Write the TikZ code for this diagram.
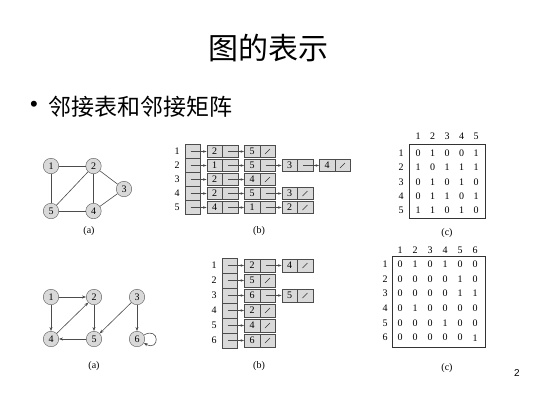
\documentclass[tikz,border=0pt]{standalone}
\usepackage{fontspec}
\setmainfont{Liberation Serif}
\newfontfamily\cjk{Noto Sans CJK SC}
\newfontfamily\arialfont{Liberation Sans}
\usetikzlibrary{arrows.meta}
\begin{document}
\begin{tikzpicture}[x=1pt,y=-1pt,
  vtx/.style={circle,draw=black!65,fill=black!15,minimum size=15.5pt,inner sep=0pt,font=\fontsize{10}{11}\selectfont},
  edge/.style={draw=black!70,line width=0.6pt},
  arr/.style={edge,-{Stealth[length=4pt,width=3pt]}},
  lbl/.style={font=\fontsize{10}{11}\selectfont,inner sep=0pt},
  headcell/.style={draw=black!70,fill=black!15,minimum width=15.5pt,inner sep=0pt},
  cell/.style={draw=black!70,fill=black!15,minimum width=15.5pt,inner sep=0pt,font=\fontsize{10}{11}\selectfont},
  ptr/.style={draw=black!70,line width=0.5pt,-{Stealth[length=3.5pt,width=2.5pt]}},
  digit/.style={font=\fontsize{10}{11}\selectfont,inner sep=0pt},
  nilmark/.style={black!80,line width=0.5pt}
]
\useasboundingbox[fill=white] (0,0) rectangle (533,400);

% title and bullet
\node[font=\cjk\fontsize{30}{32}\selectfont] (title) at (268,48) {图的表示};
\node[font=\arialfont\fontsize{22}{24}\selectfont] (bul) at (34,106) {•};
\node[anchor=west,font=\cjk\fontsize{23}{25}\selectfont,inner sep=0pt] (sub) at (48,107) {邻接表和邻接矩阵};
\node[font=\arialfont\fontsize{10}{12}\selectfont] (pg) at (517,373) {2};

% ---------- top graph (a) ----------
\node[vtx] (a1) at (51,166) {1};
\node[vtx] (a2) at (93.5,166) {2};
\node[vtx] (a3) at (124,189) {3};
\node[vtx] (a5) at (51,211) {5};
\node[vtx] (a4) at (93.5,211) {4};
\draw[edge] (a1) -- (a2);
\draw[edge] (a1) -- (a5);
\draw[edge] (a2) -- (a5);
\draw[edge] (a2) -- (a4);
\draw[edge] (a2) -- (a3);
\draw[edge] (a3) -- (a4);
\draw[edge] (a5) -- (a4);
\node[lbl] (capa1) at (89,231) {(a)};

% ---------- bottom graph (a) ----------
\node[vtx] (b1) at (51,297) {1};
\node[vtx] (b2) at (94,297) {2};
\node[vtx] (b3) at (137,297) {3};
\node[vtx] (b4) at (51,339) {4};
\node[vtx] (b5) at (94,339) {5};
\node[vtx] (b6) at (137,339) {6};
\draw[arr] (b1) -- (b2);
\draw[arr] (b1) -- (b4);
\draw[arr] (b2) -- (b5);
\draw[arr] (b4) -- (b2);
\draw[arr] (b3) -- (b5);
\draw[arr] (b3) -- (b6);
\draw[arr] (b5) -- (b4);
\draw[arr] (b6) to[out=30,in=-30,looseness=6] (b6);
\node[lbl] (capa2) at (94,366) {(a)};

% ---------- top adjacency list (b) ----------
\tikzset{
  tk/.style={cell,minimum height=12pt},
  bk/.style={cell,minimum height=12.5pt}
}
\foreach \i in {1,...,5} {
  \node[headcell,minimum height=14pt] (h\i) at (192.5,137.5+14*\i) {};
  \node[lbl] (hl\i) at (177,137.5+14*\i) {\i};
}
% row 1: 2 -> 5/
\node[tk] (r1a) at (214.5,151.5) {2}; \node[tk] (r1an) at (230,151.5) {};
\node[tk] (r1b) at (252,151.5) {5}; \node[tk] (r1bn) at (267.5,151.5) {};
% row 2: 1 -> 5 -> 3 -> 4/
\node[tk] (r2a) at (214.5,165.5) {1}; \node[tk] (r2an) at (230,165.5) {};
\node[tk] (r2b) at (252,165.5) {5}; \node[tk] (r2bn) at (267.5,165.5) {};
\node[tk] (r2c) at (289.5,165.5) {3}; \node[tk] (r2cn) at (305,165.5) {};
\node[tk] (r2d) at (327,165.5) {4}; \node[tk] (r2dn) at (342.5,165.5) {};
% row 3: 2 -> 4/
\node[tk] (r3a) at (214.5,179.5) {2}; \node[tk] (r3an) at (230,179.5) {};
\node[tk] (r3b) at (252,179.5) {4}; \node[tk] (r3bn) at (267.5,179.5) {};
% row 4: 2 -> 5 -> 3/
\node[tk] (r4a) at (214.5,193.5) {2}; \node[tk] (r4an) at (230,193.5) {};
\node[tk] (r4b) at (252,193.5) {5}; \node[tk] (r4bn) at (267.5,193.5) {};
\node[tk] (r4c) at (289.5,193.5) {3}; \node[tk] (r4cn) at (305,193.5) {};
% row 5: 4 -> 1 -> 2/
\node[tk] (r5a) at (214.5,207.5) {4}; \node[tk] (r5an) at (230,207.5) {};
\node[tk] (r5b) at (252,207.5) {1}; \node[tk] (r5bn) at (267.5,207.5) {};
\node[tk] (r5c) at (289.5,207.5) {2}; \node[tk] (r5cn) at (305,207.5) {};
% pointers
\foreach \i in {1,...,5} { \draw[ptr] ([xshift=-2pt]h\i.center) -- (r\i a.west); }
\draw[ptr] ([xshift=-2pt]r1an.center) -- (r1b.west);
\draw[ptr] ([xshift=-2pt]r2an.center) -- (r2b.west);
\draw[ptr] ([xshift=-2pt]r2bn.center) -- (r2c.west);
\draw[ptr] ([xshift=-2pt]r2cn.center) -- (r2d.west);
\draw[ptr] ([xshift=-2pt]r3an.center) -- (r3b.west);
\draw[ptr] ([xshift=-2pt]r4an.center) -- (r4b.west);
\draw[ptr] ([xshift=-2pt]r4bn.center) -- (r4c.west);
\draw[ptr] ([xshift=-2pt]r5an.center) -- (r5b.west);
\draw[ptr] ([xshift=-2pt]r5bn.center) -- (r5c.west);
% nil slashes
\foreach \n in {r1bn,r2dn,r3bn,r4cn,r5cn} {
  \draw[nilmark] ([shift={(-2.5pt,-2.5pt)}]\n.center) -- ([shift={(2.5pt,2.5pt)}]\n.center);
}
\node[lbl] (capb1) at (259,231) {(b)};

% ---------- bottom adjacency list (b) ----------
\foreach \i in {1,...,6} {
  \node[headcell,minimum height=15pt] (g\i) at (229.7,250.5+15*\i) {};
  \node[lbl] (gl\i) at (214,250.5+15*\i) {\i};
}
\node[bk] (s1a) at (252,265.5) {2}; \node[bk] (s1an) at (267.5,265.5) {};
\node[bk] (s1b) at (289.5,265.5) {4}; \node[bk] (s1bn) at (305,265.5) {};
\node[bk] (s2a) at (252,280.5) {5}; \node[bk] (s2an) at (267.5,280.5) {};
\node[bk] (s3a) at (252,295.5) {6}; \node[bk] (s3an) at (267.5,295.5) {};
\node[bk] (s3b) at (289.5,295.5) {5}; \node[bk] (s3bn) at (305,295.5) {};
\node[bk] (s4a) at (252,310.5) {2}; \node[bk] (s4an) at (267.5,310.5) {};
\node[bk] (s5a) at (252,325.5) {4}; \node[bk] (s5an) at (267.5,325.5) {};
\node[bk] (s6a) at (252,340.5) {6}; \node[bk] (s6an) at (267.5,340.5) {};
\foreach \i in {1,...,6} { \draw[ptr] ([xshift=-2pt]g\i.center) -- (s\i a.west); }
\draw[ptr] ([xshift=-2pt]s1an.center) -- (s1b.west);
\draw[ptr] ([xshift=-2pt]s3an.center) -- (s3b.west);
\foreach \n in {s1bn,s2an,s3bn,s4an,s5an,s6an} {
  \draw[nilmark] ([shift={(-2.5pt,-2.5pt)}]\n.center) -- ([shift={(2.5pt,2.5pt)}]\n.center);
}
\node[lbl] (capb2) at (259,366) {(b)};

% ---------- top matrix (c) ----------
\foreach \j in {1,...,5} { \node[digit] (ch\j) at (403.5+14.5*\j,136) {\j}; }
\foreach \i in {1,...,5} { \node[digit] (rh\i) at (401,138.6+14.4*\i) {\i}; }
\foreach \row [count=\i] in {{0,1,0,0,1},{1,0,1,1,1},{0,1,0,1,0},{0,1,1,0,1},{1,1,0,1,0}} {
  \foreach \v [count=\j] in \row {
    \node[digit] (m-\i-\j) at (403.5+14.5*\j,138.6+14.4*\i) {\v};
  }
}
\node[draw=black!80,line width=0.6pt,minimum width=76pt,minimum height=74pt,inner sep=0pt] (box1) at (447,181) {};
\node[lbl] (capc1) at (447,233) {(c)};

% ---------- bottom matrix (c) ----------
\foreach \j in {1,...,6} { \node[digit] (dh\j) at (385+15*\j,250) {\j}; }
\foreach \i in {1,...,6} { \node[digit] (sh\i) at (385,249.5+14.7*\i) {\i}; }
\foreach \row [count=\i] in {{0,1,0,1,0,0},{0,0,0,0,1,0},{0,0,0,0,1,1},{0,1,0,0,0,0},{0,0,0,1,0,0},{0,0,0,0,0,1}} {
  \foreach \v [count=\j] in \row {
    \node[digit] (n-\i-\j) at (385+15*\j,249.5+14.7*\i) {\v};
  }
}
\node[draw=black!80,line width=0.6pt,minimum width=93pt,minimum height=91pt,inner sep=0pt] (box2) at (438.5,302) {};
\node[lbl] (capc2) at (447,368) {(c)};
\end{tikzpicture}
\end{document}
